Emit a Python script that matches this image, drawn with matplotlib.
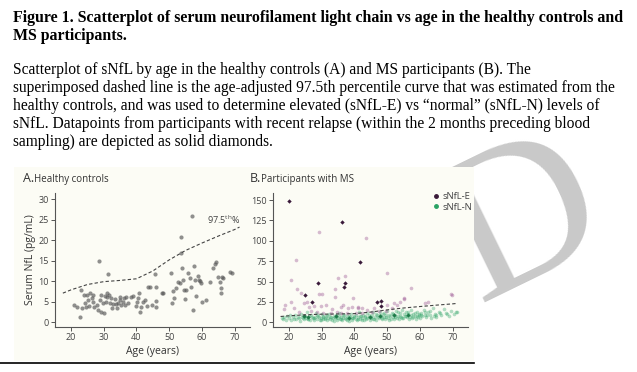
import matplotlib
matplotlib.use("Agg")
import matplotlib.pyplot as plt
from matplotlib.patches import Rectangle
from matplotlib.lines import Line2D

W, H = 637, 372

# ---- data ----
# A. healthy controls
hc_age = [20.9, 21.9, 22.8, 23.0, 23.3, 24.0, 24.3, 24.6, 25.0, 25.3, 25.6, 25.8, 26.3, 26.6, 26.8,
          27.1, 27.8, 28.3, 28.5, 28.8, 29.1, 29.3, 29.9, 30.2, 30.4, 30.7, 31.0, 31.1, 31.4, 31.6,
          31.9, 32.2, 32.5, 32.9, 33.4, 33.7, 34.1, 34.4, 34.9, 35.1, 35.4, 35.8, 36.2, 36.5, 36.8,
          37.5, 38.2, 38.8, 39.8, 40.2, 40.5, 40.8, 41.0, 41.5, 42.1, 42.6, 43.1, 43.6, 44.1, 44.6,
          45.6, 46.1, 45.9, 46.1, 47.9, 48.1, 50.7, 51.0, 51.2, 51.4, 52.0, 52.7, 53.2, 53.5, 53.7,
          54.0, 54.2, 54.5, 54.8, 55.1, 55.8, 56.3, 56.8, 57.1, 57.3, 57.5, 57.8, 58.3, 58.8, 59.1,
          59.3, 59.6, 60.1, 61.4, 62.4, 63.4, 63.9, 64.4, 64.9, 65.4, 65.7, 65.7, 66.2, 66.6, 68.5,
          69.3]
hc_nfl = [4.1, 3.8, 1.4, 7.9, 3.4, 6.7, 4.6, 3.8, 6.7, 5.4, 4.0, 7.1, 5.9, 5.0, 6.7,
          3.7, 4.2, 3.0, 15.0, 5.4, 2.6, 6.7, 4.6, 2.2, 6.3, 5.0, 7.1, 6.1, 11.7, 6.7,
          4.6, 5.9, 3.4, 4.5, 5.6, 4.5, 3.4, 4.6, 5.4, 6.1, 4.2, 5.0, 5.9, 4.2, 6.1,
          4.6, 6.1, 6.4, 4.0, 5.0, 5.9, 7.1, 2.4, 3.8, 5.0, 5.4, 4.0, 8.7, 8.7, 4.2,
          11.8, 3.8, 5.3, 8.7, 7.1, 7.1, 12.1, 4.6, 7.5, 5.9, 8.3, 9.7, 9.5, 16.8, 20.9,
          13.2, 10.3, 7.9, 5.6, 7.9, 12.0, 10.7, 8.7, 25.9, 3.0, 13.7, 10.3, 6.3, 11.3, 10.3,
          10.1, 9.5, 5.0, 5.4, 9.8, 13.2, 14.2, 14.8, 11.1, 9.7, 8.3, 7.1, 11.1, 10.7, 12.3,
          11.9]

# age-adjusted 97.5th percentile curve
pct_age = [17.5, 20, 25, 30, 35, 40, 45, 50, 55, 60, 65, 70, 71.5]
pct_nfl = [7.1, 7.9, 9.2, 9.9, 10.2, 10.6, 12.5, 15.2, 17.5, 19.3, 21.0, 22.6, 23.2]

# B. MS participants, sNfL-E (no recent relapse)
e_age = [29.2, 43.5, 22.3, 20.6, 50.0, 35.1, 37.2, 57.3, 22.6, 23.7, 29.2, 30.2, 34.1, 34.1, 39.6,
         69.4, 69.9, 18.4, 18.9, 20.8, 21.6, 24.7, 26.2, 27.7, 29.8, 31.3, 33.3, 35.9, 36.7, 38.2,
         39.2, 41.2, 42.5, 43.8, 50.1, 51.4, 52.1, 53.1, 54.1, 55.2, 49.6, 61.6, 62.6, 30.3, 32.8,
         34.8, 37.9, 40.4, 42.5, 45.5, 47.5, 25.6, 41.0, 23.0, 26.8, 28.5, 55.1, 46.0, 36.0]
e_nfl = [111.2, 103.1, 76.5, 51.9, 60.1, 54.8, 56.9, 42.5, 40.9, 35.6, 34.8, 34.8, 40.5, 30.7, 29.4,
         34.4, 33.1, 16.4, 21.3, 24.5, 17.2, 23.3, 18.4, 20.4, 20.0, 21.3, 16.0, 18.4, 21.3, 17.2,
         18.4, 19.2, 17.2, 15.1, 21.3, 17.2, 23.3, 21.3, 25.4, 29.4, 14.3, 23.3, 24.5, 11.9, 11.9,
         13.1, 11.9, 11.0, 11.9, 13.1, 13.9, 25.4, 18.0, 12.5, 13.5, 12.0, 28.2, 17.5, 11.5]

# sNfL-E with recent relapse (solid diamonds)
er_age = [20.1, 36.4, 41.6, 29.0, 37.1, 36.9, 24.9, 27.2, 47.0, 48.3, 48.3]
er_nfl = [148.9, 122.7, 74.4, 48.7, 48.7, 43.8, 33.5, 24.5, 25.4, 26.2, 20.0]

# sNfL-N (no recent relapse)
n_age = [18.0, 18.3, 18.7, 19.2, 19.5, 20.0, 20.4, 20.8, 21.2, 21.6, 22.0, 22.3,
         22.7, 23.0, 23.4, 23.8, 24.1, 24.5, 24.8, 25.2, 25.5, 25.9, 26.2, 26.6,
         26.9, 27.3, 27.6, 28.0, 28.3, 28.7, 29.0, 29.4, 29.7, 30.0, 30.3,
         30.6, 31.0, 31.3, 31.7, 32.0, 32.3, 32.7, 33.0, 33.4, 33.7, 34.0, 34.4, 34.7, 35.0,
         35.3, 35.7, 36.0, 36.3, 36.7, 37.0, 37.4, 37.7, 38.0, 38.4, 38.7, 39.0, 39.4, 39.7,
         40.0, 40.4, 40.7, 41.0, 41.4, 41.7, 42.0, 42.4, 42.7, 43.0, 43.4, 43.7, 44.0, 44.4, 44.7,
         45.0, 45.4, 45.7, 46.0, 46.4, 46.7, 47.0, 47.4, 47.7, 48.0, 48.4, 48.7, 49.0, 49.4, 49.7,
         50.0, 50.4, 50.7, 51.0, 51.4, 51.7, 52.0, 52.4, 52.7, 53.0, 53.4, 53.7, 54.0, 54.4, 54.7,
         55.0, 55.4, 55.7, 56.0, 56.4, 56.7, 57.0, 57.4, 57.7, 58.0, 58.4, 58.7, 59.0, 59.4, 59.7,
         60.0, 60.4, 60.8, 61.2, 61.6, 62.0, 62.5, 63.0, 63.5, 64.0, 64.5,
         65.0, 65.8, 66.5, 67.3, 68.0, 68.8, 69.5, 70.3, 71.0,
         24.3, 25.0, 26.0, 27.0, 27.8, 28.5, 29.2, 29.8, 30.5, 31.2, 31.8, 32.5, 33.2, 33.8,
         34.5, 35.2, 35.8, 36.5, 37.2, 37.8, 38.5, 39.2, 39.8, 40.5, 41.2, 41.8, 42.5, 43.2,
         43.8, 44.5, 45.2, 45.8, 46.5, 47.2, 47.8, 48.5, 49.2, 49.8, 50.5, 51.2, 51.8, 52.5,
         53.2, 53.8, 54.5, 55.2, 55.8, 56.5, 57.2, 57.8, 58.5, 59.2, 59.8, 60.5, 61.5, 62.3,
         63.2, 64.2, 64.8, 66.3, 68.4, 71.4]
n_nfl = [5.5, 4.0, 6.5, 3.2, 7.8, 5.0, 8.5, 2.8, 6.0, 4.5, 9.5, 3.5,
         7.0, 5.2, 2.0, 10.5, 6.2, 3.8, 8.0, 5.5, 12.0, 4.2, 7.5, 2.5,
         9.0, 5.0, 3.2, 6.8, 11.0, 4.5, 7.2, 2.2, 5.8, 9.8, 3.8,
         6.5, 4.0, 8.2, 2.5, 5.5, 10.5, 3.5, 7.0, 4.8, 1.8, 6.0, 8.8, 3.0, 5.2,
         11.5, 4.2, 6.8, 2.5, 5.5, 9.0, 3.8, 7.2, 4.8, 1.5, 6.2, 10.0, 3.2, 5.8,
         8.0, 4.5, 2.2, 6.5, 12.0, 3.5, 7.5, 5.0, 9.5, 2.8, 6.0, 4.0, 11.0, 7.0, 3.0,
         5.5, 8.5, 12.5, 4.2, 6.8, 2.5, 9.5, 5.0, 13.0, 7.2, 3.8, 10.5, 6.0, 4.5, 8.8,
         14.0, 5.5, 3.0, 7.8, 11.5, 6.2, 4.0, 9.2, 13.5, 5.8, 7.5, 3.5, 10.8, 6.5, 15.0,
         4.8, 8.2, 12.0, 6.0, 9.8, 3.8, 7.0, 14.5, 5.2, 10.5, 8.0, 4.2, 12.8, 6.5, 9.0,
         5.0, 11.0, 7.5, 15.5, 9.5, 6.0, 12.5, 8.5, 5.5, 17.0, 10.0,
         7.0, 13.0, 9.5, 16.5, 11.0, 7.5, 14.0, 10.0, 12.0,
         5.0, 7.5, 3.5, 6.2, 4.8, 8.5, 6.0, 3.2, 7.8, 5.5, 9.0, 6.2, 2.8, 8.0,
         5.0, 7.5, 3.5, 8.5, 5.8, 2.8, 8.2, 5.0, 7.0, 9.5, 4.2, 8.0, 3.2, 7.8,
         5.2, 9.2, 6.5, 3.8, 10.5, 6.2, 8.8, 5.2, 11.5, 7.0, 9.0, 4.5, 10.0, 6.8,
         12.0, 8.0, 5.2, 10.5, 7.2, 13.0, 8.8, 6.0, 11.5, 7.8, 10.2, 8.5, 12.0, 9.0,
         13.5, 7.8, 9.0, 11.0, 10.2, 13.1]

# sNfL-N with recent relapse (solid diamonds)
nr_age = [24.7, 25.9, 34.3, 38.4, 44.7, 47.8, 52.0, 56.5]
nr_nfl = [7.8, 6.9, 7.3, 5.8, 6.9, 7.8, 8.5, 9.0]

caption_title = ["Figure 1. Scatterplot of serum neurofilament light chain vs age in the healthy controls and",
                 "MS participants."]
caption_text = ["Scatterplot of sNfL by age in the healthy controls (A) and MS participants (B). The",
                "superimposed dashed line is the age-adjusted 97.5th percentile curve that was estimated from the",
                "healthy controls, and was used to determine elevated (sNfL-E) vs \u201cnormal\u201d (sNfL-N) levels of",
                "sNfL. Datapoints from participants with recent relapse (within the 2 months preceding blood",
                "sampling) are depicted as solid diamonds."]

plt.rcParams['font.family'] = ['Open Sans', 'DejaVu Sans']
plt.rcParams['mathtext.fontset'] = 'custom'
plt.rcParams['mathtext.rm'] = 'Open Sans'


def fx(x):
    return x / W


def fy(y):
    return 1 - y / H


fig = plt.figure(figsize=(W / 100, H / 100), dpi=100)

# watermark behind everything
fig.text(fx(468), fy(252), "ED", fontsize=150, family='Liberation Serif', color='#c9c9c9',
         rotation=26, rotation_mode='anchor', ha='center', va='center', zorder=-5)

# cream panel of the embedded figure
fig.patches.append(Rectangle((fx(14), fy(361)), (474 - 14) / W, (361 - 167) / H,
                             transform=fig.transFigure, facecolor='#fcfcf5',
                             edgecolor='none', zorder=-1))
fig.add_artist(Line2D([0, fx(474)], [fy(362.5), fy(362.5)], color='black', lw=1.2))

serif = 'Liberation Serif'
for i, line in enumerate(caption_title):
    fig.text(fx(13), fy(17.5 + 18.5 * i), line, fontsize=11.45, weight='bold', family=serif, va='center')
for i, line in enumerate(caption_text):
    fig.text(fx(13), fy(70 + 18 * i), line, fontsize=11.2, family=serif, va='center')

ax_a = fig.add_axes([fx(55), fy(327), 195 / W, 134 / H])
ax_b = fig.add_axes([fx(272.7), fy(327), 195.3 / W, 134 / H])

for ax in (ax_a, ax_b):
    ax.set_facecolor('none')
    for s in ('top', 'right'):
        ax.spines[s].set_visible(False)
    for s in ('left', 'bottom'):
        ax.spines[s].set_color('#555555')
        ax.spines[s].set_linewidth(0.8)
    ax.tick_params(length=3, width=0.7, color='#555555', labelsize=6.5,
                   labelcolor='#444444', pad=1.5)
    ax.set_xlim(15.1, 74.7)
    ax.set_xticks([20, 30, 40, 50, 60, 70])
    ax.set_xlabel('Age (years)', fontsize=7.5, color='#333333')
    ax.xaxis.set_label_coords(0.5, -0.145)
    ax.plot(pct_age, pct_nfl, color='#444444', lw=0.8, ls=(0, (3, 2)), zorder=3)

# panel A
ax_a.scatter(hc_age, hc_nfl, s=9, color='#555555', alpha=0.65, linewidths=0)
ax_a.set_ylim(-1.15, 31.5)
ax_a.set_yticks([0, 5, 10, 15, 20, 25, 30])
ax_a.set_ylabel('Serum NfL (pg/mL)', fontsize=7.5, color='#333333')
ax_a.yaxis.set_label_coords(-0.1, 0.5)
ax_a.text(61.6, 24.9, r'97.5$^{\mathrm{th}}$%', fontsize=6.5, color='#444444', va='center')

# panel B
ax_b.scatter(n_age, n_nfl, s=7, color='#2aa264', alpha=0.35, linewidths=0)
ax_b.scatter(e_age, e_nfl, s=7, color='#8e3f86', alpha=0.35, linewidths=0)
ax_b.scatter(nr_age, nr_nfl, s=5, marker='D', color='#1e7a48', linewidths=0)
ax_b.scatter(er_age, er_nfl, s=5, marker='D', color='#3a1a3a', linewidths=0)
ax_b.set_ylim(-5.8, 158.6)
ax_b.set_yticks([0, 25, 50, 75, 100, 125, 150])
handles = [Line2D([], [], marker='o', ls='', color='#3a1a3a', ms=2.5),
           Line2D([], [], marker='o', ls='', color='#2aa264', ms=2.5)]
ax_b.legend(handles, ['sNfL-E', 'sNfL-N'], loc='upper left', bbox_to_anchor=(0.8, 1.04),
            frameon=False, fontsize=6.8, handlelength=0.6, handletextpad=0.3,
            labelspacing=0.15, borderpad=0, labelcolor='#444444')

# panel headings
fig.text(fx(23), fy(179), 'A.', fontsize=9, color='#333333', va='center')
fig.text(fx(34), fy(179.5), 'Healthy controls', fontsize=7, color='#333333', va='center')
fig.text(fx(250), fy(179), 'B.', fontsize=9, color='#333333', va='center')
fig.text(fx(261), fy(179.5), 'Participants with MS', fontsize=7, color='#333333', va='center')

fig.savefig('out.png', dpi=100)
